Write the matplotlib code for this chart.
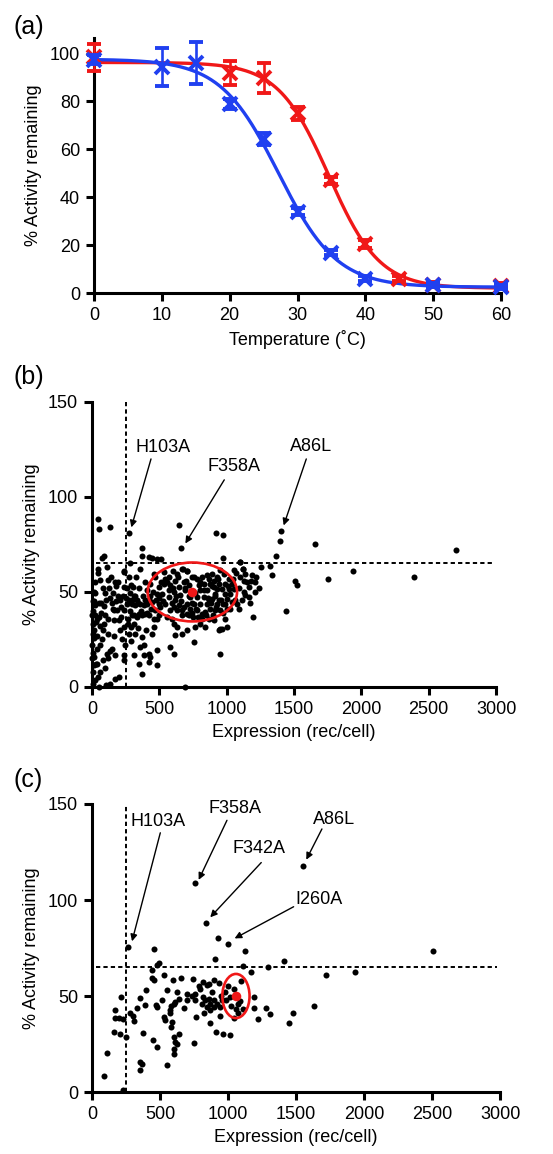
import numpy as np
import matplotlib
matplotlib.use('Agg')
import matplotlib.pyplot as plt
from matplotlib.patches import Ellipse

plt.rcParams['font.family'] = ['Liberation Sans', 'DejaVu Sans']

# ---------------- Panel (a) data ----------------
temp_red = [0, 20, 25, 30, 35, 40, 45, 50, 60]
act_red = [98.5, 91.7, 89.7, 75, 47, 20.5, 6, 3.5, 3]
err_red = [5.6, 5, 6.2, 2.6, 1.5, 1.5, 1, 1, 1]
temp_blue = [0, 10, 15, 20, 25, 30, 35, 40, 50, 60]
act_blue = [97.5, 94.3, 96, 79, 64.3, 34, 16.8, 6, 3.3, 2.5]
err_blue = [2, 8, 8.7, 2, 2.7, 1.5, 1, 1, 1, 1]

# ---------------- Panel (b) data ----------------
expr_b = [45, 52, 136, 272, 648, 658, 923, 970, 1403, 1398, 1364, 1658, 2705, 1938, 2391, 1750, 1507, 1522,
          1440, 1337, 1324, 1252, 1193,
          92, 74, 371, 371, 448, 483, 515, 111, 42, 240, 285, 359, 676, 706, 970, 1101, 1119,
          62, 116, 168, 178, 94, 20, 156, 106, 92, 156, 166, 186, 52, 37, 119, 79, 12, 12, 163, 136,
          151, 111, 119, 173, 17, 37, 17, 62, 45, 25, 136, 173, 203, 106, 52, 7, 235, 235, 235, 235,
          210, 240, 218, 235, 210,
          5, 8, 15, 3, 10, 25, 30, 5, 20, 48, 70, 85, 130, 140, 190, 200, 225, 60, 80, 95,
          292, 304, 285, 309, 277, 297, 322, 260, 334, 359, 384, 408, 346, 371, 396, 421, 334, 309, 290,
          322, 272, 371, 384, 359, 421, 384, 433, 421, 483, 483, 371, 446, 458, 483, 470, 495, 458, 433,
          408, 483, 446, 507, 421,
          330, 350, 300, 280, 380, 420, 395, 460, 440, 265,
          582, 557, 594, 606, 631, 619, 582, 606, 668, 705, 755, 693, 767, 804, 841, 817, 866, 903, 940,
          952, 1002, 990, 952, 965,
          532, 569, 601, 631, 668, 705, 742, 780, 817, 854, 891, 928, 952, 977, 1015, 1040, 1052, 1027,
          1002, 1040, 1027, 973, 940, 916, 903, 940, 965, 990, 879, 854, 829, 854, 879, 916, 804, 780,
          755, 730, 705, 668, 644, 619, 656, 693, 718, 681, 644, 606, 569, 545, 520, 495, 532, 582, 619,
          804, 829, 792, 767, 730, 705, 681, 780, 817, 841, 866, 891, 928, 952, 990, 1015, 928, 903, 866,
          668, 631, 606, 718, 750,
          1101, 1119, 1101, 1138, 1126, 1151, 1180, 1212, 1163, 1212, 1138, 1163, 1114, 1077, 1089,
          1188, 1052,
          560, 600, 640, 700, 720, 745, 770, 800, 830, 860, 890, 910, 935, 960, 985, 1010, 1060, 1045,
          690, 660, 625, 595, 570, 545, 510, 470, 500, 530, 760, 880, 920, 975, 1000, 740, 790, 850, 900,
          255, 262, 275, 300, 320, 345, 365, 390, 410, 430, 455, 475, 500, 315, 340, 270, 290, 310, 350, 400,
          5, 12, 25, 35, 40, 55, 65, 75, 90, 100, 120, 125, 145, 160, 180, 195, 215, 228, 245, 5, 30, 60,
          2, 2,
          1070, 1090, 1130, 1170, 1220, 1240]
act_b = [88.6, 83, 84, 81, 85, 73, 81, 80, 82, 77, 69, 75, 72, 61, 58, 57, 56, 53.5,
         40, 59, 63.5, 63, 37,
         69, 68, 73, 69, 68, 67.5, 67.5, 63, 62, 61, 65, 62, 62, 61, 68, 66, 62,
         56.5, 56.5, 55, 53, 49.5, 49.6, 49.5, 45.6, 42.6, 41, 40.7, 40.7, 36.8, 36, 36, 30, 30, 26, 27, 19,
         20, 17.5, 15, 16.7, 15.8, 12, 11.4, 7.9, 5.3, 3.5, 1.8, 4.4, 5.3, 0.9, 0, 1.8, 16.7, 14, 60.5, 52.6,
         45.6, 40.3, 36.8, 31.6, 30,
         33, 40, 45, 22, 18, 38, 34, 28, 55, 60, 44, 52, 47, 58, 48, 35, 25, 22, 14, 10,
         53.5, 52.6, 49.5, 48, 45.6, 43.9, 43, 43.9, 45.6, 43.9, 43, 43.9, 38.6, 37.7, 38.6, 37.7, 36.8, 33.3, 31.6,
         28, 28, 26.3, 21.9, 21, 17.5, 16.7, 15.8, 13, 11.4, 19.3, 7, 28, 31.6, 36, 40.3, 43.9, 59.6, 54.4,
         50.9, 49, 44.7, 42, 68.4,
         58, 52, 38, 40, 48, 46, 55, 36, 41, 36,
         40.3, 36.8, 36, 33.3, 31.6, 27.2, 21, 17.5, 28, 30, 23.7, 0, 31.6, 33.3, 31.6, 36, 36, 35, 30,
         30.7, 31.6, 36, 17.5, 30.7,
         60.5, 58, 61, 59.5, 62, 61, 58, 57, 58, 58.8, 59.6, 58, 61.4, 59.6, 57, 54.4, 51.7, 49,
         46.5, 44.7, 41.2, 43.9, 45.6, 49, 52.6, 54.4, 51.7, 54.4, 54.4, 50.9, 47.4, 43.9, 41.2, 40.3, 43.9, 47.4,
         43.9, 41.2, 38.6, 40.3, 43, 45.6, 48.2, 50.9, 53.5, 55.3, 52.6, 50, 47.4, 43.9, 49, 52.6, 54.4, 53.5, 56,
         50.9, 54.4, 53.5, 49.7, 47.4, 43.9, 42, 40.3, 38.6, 39.5, 45.6, 46.5, 43.9, 40.3, 43.9, 51.7, 51.7, 56, 57,
         37.7, 40.3, 42, 37.7, 36.8,
         66, 62, 58, 59.6, 56, 55.3, 56, 55.5, 52.6, 50, 48.2, 47.4, 45.6, 43.9, 41.2,
         58.8, 61.4,
         55, 52, 58, 56, 48, 44, 41, 55, 51, 47, 53, 48, 57, 46, 49, 53, 46, 57,
         52, 45, 48, 44, 51, 57, 55, 58, 47, 45, 58, 44, 42, 39, 41, 39, 37, 38, 38,
         47, 52, 58, 46, 48, 44, 40, 46, 39, 48, 50, 46, 38, 38, 31, 33, 24, 17, 12, 30,
         45, 50, 43, 27, 20, 44, 39, 25, 33, 38, 28, 52, 44, 35, 45, 55, 42, 48, 22, 8, 12, 32,
         38, 15,
         60, 52, 50, 44, 58, 52]

# ---------------- Panel (c) data ----------------
expr_c = [754, 1550, 838, 926, 1002, 262, 1122, 2505, 456, 907, 1408, 1107, 1293, 492, 477, 1168, 1719, 1930,
          441, 453, 441, 527, 593, 654, 740, 813, 845, 894, 931, 796, 1095, 551, 624, 698, 759, 818,
          397, 353, 387, 331, 216, 167, 172, 196, 225, 277, 299, 311, 159, 203, 252, 372,
          446, 478, 527, 539, 571, 576, 600, 639, 612, 583, 517, 468, 478,
          583, 590, 600, 612, 624, 600, 605, 639, 551, 355, 367, 355, 110, 86, 225,
          673, 698, 735, 764, 747, 808, 820, 845, 869, 833, 857, 894, 918, 869, 894, 943, 955, 987, 1016,
          1041, 1055, 1041, 943, 911, 960, 1016, 869, 1090, 1075,
          1188, 1188, 1219, 1278, 1310, 1447, 1474, 1634,
          980, 1000, 1020, 1070, 1110, 950, 880, 860, 790, 760]
act_c = [108.7, 117.8, 87.9, 80.4, 77.3, 75.3, 73.4, 73.4, 74.3, 69.3, 68.2, 65.6, 64.9, 67, 66, 62.3, 60.9, 62.3,
         63.5, 58.3, 59.2, 60.9, 58.3, 59.2, 58.8, 57.4, 55.7, 58.3, 56.6, 53.9, 57.8, 53, 52.2, 51.3, 47.8, 49.6,
         53, 49, 45.2, 43.5, 49.6, 42.6, 38.3, 38.3, 37.8, 40.9, 39.5, 37, 31.3, 30.4, 28.7, 30.8,
         27.3, 23.5, 39.1, 37.4, 41.4, 42.6, 46.1, 48.2, 47, 44.7, 47.8, 45.2, 44.3,
         33.9, 36.5, 28.7, 26.1, 25.2, 22.6, 19.7, 30.1, 14.3, 15.7, 14.8, 11.3, 20.4, 8.2, 0.9,
         43.5, 47.8, 50.1, 39.1, 25.6, 46.1, 40.9, 44.3, 46.1, 47.8, 48.7, 47.8, 46.1, 42.6, 44.3, 44.3, 47.8, 47.8, 49.6,
         53.9, 43.2, 38.3, 39.5, 31.3, 30.4, 29.8, 36.2, 47.3, 46,
         49.6, 43.5, 37.8, 43.5, 40.4, 36.2, 40.9, 44.9,
         52, 55, 45, 41, 43, 50, 52, 56, 55, 51]

# mean positions / ellipses and thresholds
mean_b = (745, 50)
mean_c = (1058, 50)
expr_cut = 250
act_cut = 65

labels_b = ['H103A', 'F358A', 'A86L']
labels_c = ['H103A', 'F358A', 'F342A', 'A86L', 'I260A']


def boltzmann_fit(x, y):
    x = np.asarray(x, float)
    y = np.asarray(y, float)
    v50s = np.linspace(15, 45, 301)
    ks = np.linspace(1.5, 8, 131)
    V, K = np.meshgrid(v50s, ks, indexing='ij')
    f = 1.0 / (1.0 + np.exp((x[None, None, :] - V[..., None]) / K[..., None]))
    fm = f.mean(-1)
    ym = y.mean()
    cov = ((f - fm[..., None]) * (y - ym)).sum(-1)
    var = ((f - fm[..., None]) ** 2).sum(-1)
    amp = cov / var
    bot = ym - amp * fm
    sse = ((bot[..., None] + amp[..., None] * f - y) ** 2).sum(-1)
    i, j = np.unravel_index(np.argmin(sse), sse.shape)
    v, k, a, b = v50s[i], ks[j], amp[i, j], bot[i, j]
    return lambda t: b + a / (1.0 + np.exp((t - v) / k))


fig = plt.figure(figsize=(5.53, 11.54), dpi=100)

RED = '#f01818'
BLUE = '#2040f0'
TFS = 13
LW = 2.2
PFS = 18


def style_axes(ax):
    for s in ['top', 'right']:
        ax.spines[s].set_visible(False)
    for s in ['left', 'bottom']:
        ax.spines[s].set_linewidth(LW)
    ax.tick_params(width=LW, length=6, labelsize=TFS, direction='out', pad=4)


# ---------------- Panel (a) ----------------
axa = fig.add_axes([0.170, 0.7461, 0.736, 0.221])
tt = np.linspace(0, 60, 400)
fr = boltzmann_fit(temp_red, act_red)
fb = boltzmann_fit(temp_blue, act_blue)
axa.plot(tt, fr(tt), color=RED, lw=2.4, zorder=2, clip_on=False)
axa.plot(tt, fb(tt), color=BLUE, lw=2.4, zorder=3, clip_on=False)
axa.errorbar(temp_red, act_red, yerr=err_red, fmt='x', color=RED, ms=10.5, mew=2.8,
             elinewidth=1.9, capsize=5, capthick=1.9, zorder=4, clip_on=False)
axa.errorbar(temp_blue, act_blue, yerr=err_blue, fmt='x', color=BLUE, ms=10.5, mew=2.8,
             elinewidth=1.9, capsize=5, capthick=1.9, zorder=5, clip_on=False)
axa.set_xlim(0, 60)
axa.set_ylim(0, 106.5)
axa.set_xticks(range(0, 61, 10))
axa.set_yticks(range(0, 101, 20))
style_axes(axa)
axa.set_xlabel('Temperature (˚C)', fontsize=TFS, labelpad=4.5)
axa.set_ylabel('% Activity remaining', fontsize=TFS, labelpad=6)
fig.text(0.024, 0.9766, '(a)', fontsize=PFS, va='center', ha='left')


def scatter_panel(ax, ex, ac, mean, ew, eh, xmax_h):
    ax.scatter(ex, ac, s=19, color='black', linewidths=0, zorder=3, clip_on=False)
    ax.add_patch(Ellipse(mean, ew, eh, fill=False, edgecolor=RED, lw=1.9, zorder=4))
    ax.scatter([mean[0]], [mean[1]], s=48, color=RED, linewidths=0, zorder=5)
    ax.plot([expr_cut, expr_cut], [0, 150], color='black', lw=1.4, ls=(0, (2.2, 1.6)), zorder=2, clip_on=False)
    ax.plot([30, xmax_h], [act_cut, act_cut], color='black', lw=1.4, ls=(0, (2.2, 1.6)), zorder=2)
    ax.set_xlim(0, 3000)
    ax.set_ylim(0, 150)
    ax.set_xticks(range(0, 3001, 500))
    ax.set_yticks([0, 50, 100, 150])
    style_axes(ax)
    ax.set_xlabel('Expression (rec/cell)', fontsize=TFS, labelpad=4.5)
    ax.set_ylabel('% Activity remaining', fontsize=TFS, labelpad=6)


def arrow(ax, tail, tip):
    ax.annotate('', xy=tip, xytext=tail,
                arrowprops=dict(arrowstyle='-|>', color='black', lw=1.0, mutation_scale=10,
                                shrinkA=0, shrinkB=0), zorder=6)


# ---------------- Panel (b) ----------------
axb = fig.add_axes([0.1664, 0.4047, 0.7306, 0.2470])
scatter_panel(axb, expr_b, act_b, mean_b, 664, 31, 2970)
axb.text(322, 126, labels_b[0], fontsize=TFS, va='center', ha='left')
arrow(axb, (438, 120), (292, 84))
axb.text(854, 116, labels_b[1], fontsize=TFS, va='center', ha='left')
arrow(axb, (982, 109), (693, 75.5))
axb.text(1473, 126.5, labels_b[2], fontsize=TFS, va='center', ha='left')
arrow(axb, (1591, 120), (1423, 85))
fig.text(0.024, 0.6733, '(b)', fontsize=PFS, va='center', ha='left')

# ---------------- Panel (c) ----------------
axc = fig.add_axes([0.1664, 0.0537, 0.738, 0.2496])
scatter_panel(axc, expr_c, act_c, mean_c, 200, 23, 2975)
axc.text(282, 141, labels_c[0], fontsize=TFS, va='center', ha='left')
arrow(axc, (502, 135), (294, 78.5))
axc.text(857, 147.5, labels_c[1], fontsize=TFS, va='center', ha='left')
arrow(axc, (992, 141.5), (784, 110.5))
axc.text(1029, 127, labels_c[2], fontsize=TFS, va='center', ha='left')
arrow(axc, (1244, 119.5), (869, 91))
axc.text(1621, 142, labels_c[3], fontsize=TFS, va='center', ha='left')
arrow(axc, (1690, 137), (1575, 121))
axc.text(1494, 100.5, labels_c[4], fontsize=TFS, va='center', ha='left')
arrow(axc, (1482, 96.5), (1048, 80))
fig.text(0.024, 0.3241, '(c)', fontsize=PFS, va='center', ha='left')

fig.savefig('out.png', dpi=100)
